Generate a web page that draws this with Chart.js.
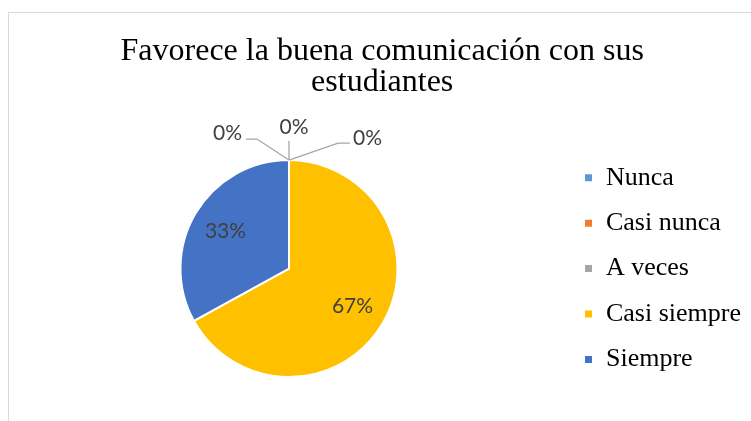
<!DOCTYPE html>
<html>
<head>
  <meta charset="UTF-8">
  <title>Favorece la buena comunicación con sus estudiantes</title>
  <script src="https://cdn.jsdelivr.net/npm/chart.js"></script>
  <style>
    html, body { margin: 0; padding: 0; background: #fff; overflow: hidden; }
    .frame {
      position: absolute; left: 8px; top: 12px;
      width: 900px; height: 600px;
      border: 1px solid #D9D9D9;
    }
    .wrap { position: absolute; left: 0; top: 0; width: 751px; height: 421px; }
  </style>
</head>
<body>
  <div class="frame"></div>
  <div class="wrap"><canvas id="pieChart" width="751" height="421"></canvas></div>

  <script>
    // Data
    const categories = ["Nunca", "Casi nunca", "A veces", "Casi siempre", "Siempre"];
    const percentages = [0, 0, 0, 67, 33];
    const sliceColors = ["#5B9BD5", "#ED7D31", "#A5A5A5", "#FFC000", "#4472C4"];
    const titleLines = ["Favorece la buena comunicación con sus", "estudiantes"];

    // Leader lines for the 0% labels, offsets from the slice's outer point
    const zeroLeaders = [
      { elbow: [-32, -21], end: [-43, -21], label: [-47, -27], align: "right" },
      { elbow: [0, -10],   end: [0, -19],   label: [5, -33],   align: "center" },
      { elbow: [49, -17],  end: [61, -17],  label: [64, -22],  align: "left" }
    ];

    // Draw the percentage labels from the arc elements
    const pctLabels = {
      id: "pctLabels",
      afterDatasetsDraw(chart) {
        const ctx = chart.ctx;
        const meta = chart.getDatasetMeta(0);
        let z = 0;
        meta.data.forEach((arc, i) => {
          const p = arc.getProps(["x", "y", "startAngle", "endAngle", "outerRadius"], true);
          const txt = percentages[i] + "%";
          ctx.save();
          ctx.font = "21px Lato";
          ctx.fillStyle = "#404040";
          ctx.textBaseline = "middle";
          if (percentages[i] === 0) {
            const L = zeroLeaders[z++ % zeroLeaders.length];
            const px = p.x + Math.cos(p.startAngle) * p.outerRadius;
            const py = p.y + Math.sin(p.startAngle) * p.outerRadius;
            ctx.strokeStyle = "#A6A6A6";
            ctx.lineWidth = 1.3;
            ctx.beginPath();
            ctx.moveTo(px, py);
            ctx.lineTo(px + L.elbow[0], py + L.elbow[1]);
            ctx.lineTo(px + L.end[0], py + L.end[1]);
            ctx.stroke();
            ctx.textAlign = L.align;
            ctx.fillText(txt, px + L.label[0], py + L.label[1]);
          } else {
            const mid = (p.startAngle + p.endAngle) / 2;
            const r = p.outerRadius * 0.68;
            ctx.textAlign = "center";
            ctx.fillText(txt, p.x + Math.cos(mid) * r, p.y + Math.sin(mid) * r);
          }
          ctx.restore();
        });
      }
    };

    new Chart(document.getElementById("pieChart").getContext("2d"), {
      type: "pie",
      data: {
        labels: categories,
        datasets: [{
          data: percentages,
          backgroundColor: sliceColors,
          borderColor: "#FFFFFF",
          borderWidth: 2,
          radius: 108.5
        }]
      },
      options: {
        responsive: false,
        animation: false,
        layout: { padding: { left: 13.4, right: 0, top: 0, bottom: 24 } },
        plugins: {
          title: {
            display: true,
            text: titleLines,
            color: "#000000",
            font: { family: "Liberation Serif", size: 32, weight: "normal", lineHeight: 0.99 },
            padding: { top: 35.4, bottom: 41.4 }
          },
          legend: {
            position: "right",
            fullSize: false,
            maxWidth: 187.4,
            labels: {
              boxWidth: 9,
              boxHeight: 9,
              padding: 19.4,
              color: "#000000",
              font: { family: "Liberation Serif", size: 26 }
            }
          },
          tooltip: { enabled: false }
        }
      },
      plugins: [pctLabels]
    });
  </script>
</body>
</html>
